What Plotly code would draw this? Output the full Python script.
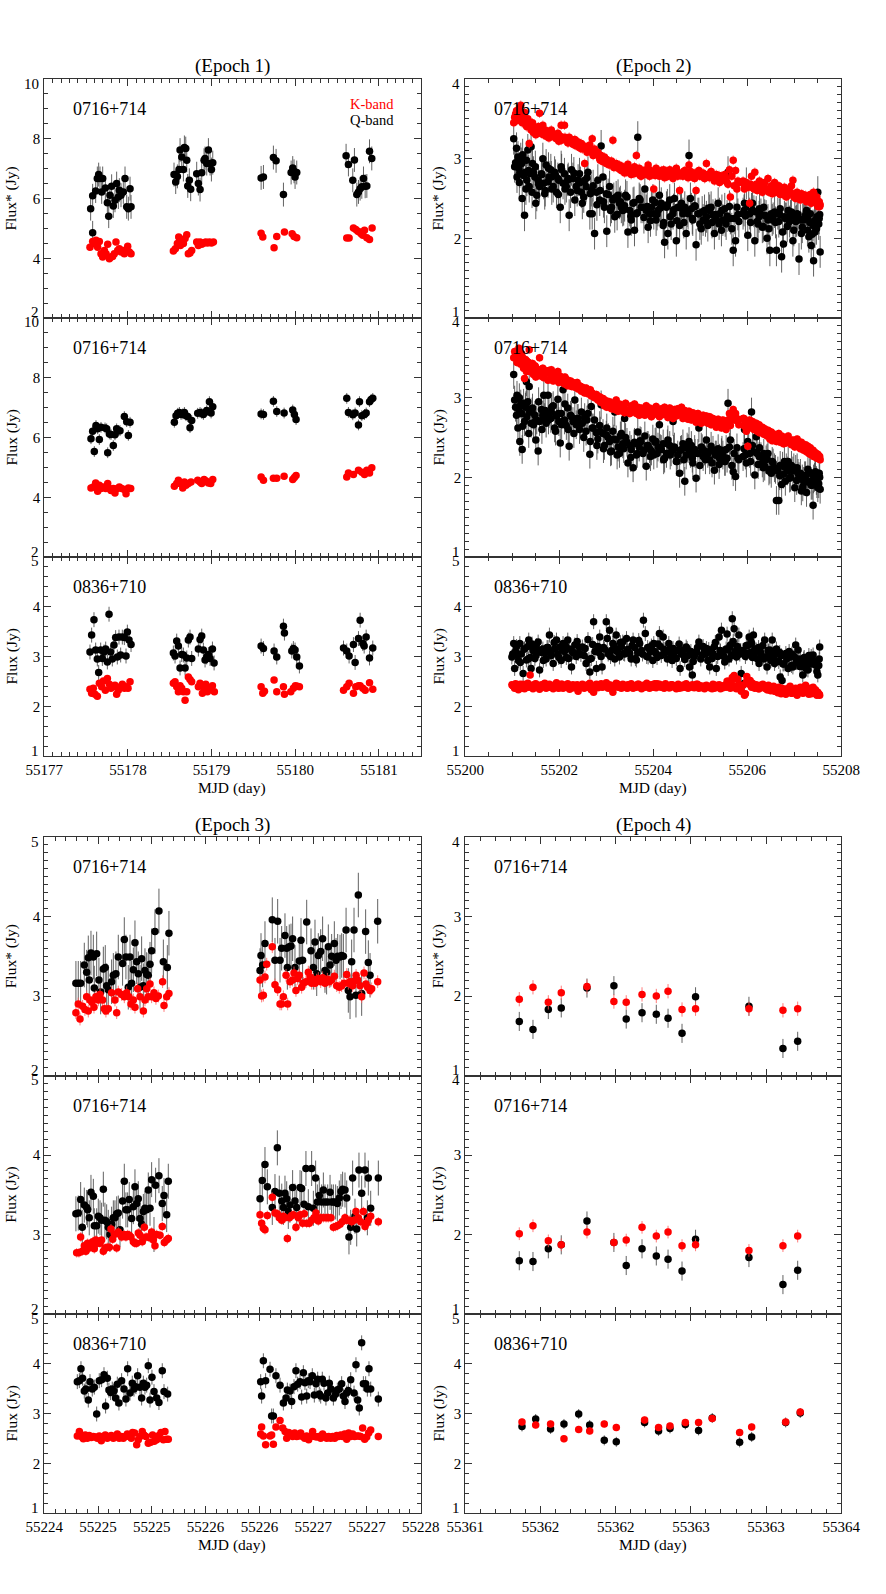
import plotly.graph_objects as go
import numpy as np

# ---------------- DATA ----------------
# Epoch 1 (MJD 55177-55181.5)
e1_q1_t = [55177.554,55177.578,55177.578,55177.614,55177.634,55177.650,55177.666,55177.686,55177.698,55177.730,
           55177.754,55177.770,55177.785,55177.805,55177.825,55177.845,55177.865,55177.885,55177.897,55177.917,
           55177.945,55177.965,55177.985,55178.005,55178.025,55178.037,
           55178.551,55178.571,55178.591,55178.611,55178.623,55178.643,55178.663,55178.675,55178.691,55178.703,
           55178.715,55178.734,55178.750,55178.822,55178.842,55178.862,55178.882,55178.910,55178.922,55178.942,
           55178.962,55178.982,55178.998,55179.014,
           55179.592,55179.620,55179.739,55179.771,55179.859,55179.951,55179.970,55179.986,55179.998,55180.018,
           55180.608,55180.636,55180.688,55180.708,55180.736,55180.756,55180.776,55180.796,55180.816,55180.836,
           55180.856,55180.888,55180.915]
e1_q1 = [5.66,4.85,6.09,6.25,6.67,6.80,6.67,6.22,6.67,6.35,5.86,5.41,6.11,6.41,5.75,5.94,6.50,6.05,6.28,6.11,
         6.22,6.67,5.72,5.66,6.33,5.72,
         6.80,6.55,6.74,6.97,7.62,7.39,6.97,7.71,7.67,7.28,6.42,6.61,6.31,6.83,6.50,6.30,6.86,7.28,7.34,7.17,
         7.62,7.17,6.97,7.20,
         6.69,6.72,7.37,7.26,6.13,6.87,7.02,6.91,6.72,6.87,
         7.43,7.14,6.61,7.29,6.13,6.22,6.33,6.39,6.67,6.41,6.42,7.58,7.34]
e1_k1_t = [55177.546,55177.578,55177.598,55177.618,55177.638,55177.658,55177.678,55177.698,55177.718,55177.738,
           55177.758,55177.778,55177.797,55177.817,55177.837,55177.857,55177.877,55177.897,55177.917,55177.937,
           55177.957,55177.977,55177.997,55178.017,55178.037,
           55178.543,55178.567,55178.591,55178.607,55178.627,55178.647,55178.663,55178.683,55178.703,55178.722,
           55178.742,55178.762,55178.822,55178.842,55178.862,55178.882,55178.910,55178.930,55178.950,55178.974,
           55178.998,55179.022,
           55179.592,55179.612,55179.747,55179.779,55179.871,55179.963,55179.986,55180.018,
           55180.616,55180.644,55180.696,55180.724,55180.748,55180.768,55180.788,55180.808,55180.828,55180.856,
           55180.888,55180.919]
e1_k1 = [4.37,4.56,4.49,4.60,4.37,4.56,4.15,4.04,4.26,4.15,4.47,3.98,4.04,4.06,4.15,4.54,4.26,4.32,4.21,4.26,
         4.15,4.28,4.40,4.21,4.15,
         4.24,4.32,4.49,4.71,4.43,4.60,4.49,4.66,4.79,4.15,4.18,4.26,4.54,4.43,4.54,4.47,4.51,4.54,4.51,4.54,
         4.51,4.54,
         4.84,4.71,4.35,4.73,4.88,4.82,4.73,4.69,
         4.68,4.68,5.01,4.96,4.90,4.88,4.82,4.77,4.94,4.69,4.63,5.01]
e1_q2_t = [55177.558,55177.578,55177.598,55177.618,55177.638,55177.658,55177.678,55177.726,55177.746,55177.758,
           55177.778,55177.797,55177.825,55177.845,55177.865,55177.885,55177.905,55177.957,55177.985,55178.005,
           55178.025,
           55178.555,55178.575,55178.595,55178.615,55178.635,55178.655,55178.675,55178.694,55178.714,55178.742,
           55178.762,55178.834,55178.862,55178.882,55178.902,55178.922,55178.942,55178.974,55178.994,55179.014,
           55179.592,55179.620,55179.739,55179.779,55179.867,55179.970,55179.990,55180.010,
           55180.616,55180.636,55180.688,55180.716,55180.756,55180.768,55180.796,55180.828,55180.848,55180.888,
           55180.907,55180.927]
e1_q2 = [5.96,6.21,5.53,6.40,6.29,5.93,6.34,6.32,6.29,5.49,6.12,6.10,5.73,6.09,6.29,6.23,6.23,6.70,6.53,6.07,
         6.51,
         6.51,6.73,6.81,6.84,6.77,6.79,6.84,6.73,6.70,6.33,6.57,6.81,6.84,6.81,6.77,6.84,6.90,7.20,6.82,7.03,
         6.79,6.77,7.21,6.87,6.82,6.92,6.77,6.60,
         7.31,6.84,6.76,6.82,6.42,7.20,6.73,6.77,6.82,7.20,7.27,7.31]
e1_k2_t = [55177.558,55177.586,55177.614,55177.638,55177.658,55177.678,55177.706,55177.734,55177.758,55177.778,
           55177.797,55177.825,55177.845,55177.873,55177.897,55177.925,55177.957,55177.977,55178.005,55178.033,
           55178.555,55178.583,55178.603,55178.623,55178.655,55178.675,55178.694,55178.722,55178.754,55178.834,
           55178.862,55178.882,55178.910,55178.934,55178.962,55178.990,55179.014,
           55179.592,55179.620,55179.739,55179.779,55179.867,55179.970,55179.990,55180.010,
           55180.616,55180.636,55180.696,55180.756,55180.796,55180.828,55180.856,55180.888,55180.915]
e1_k2 = [4.31,4.34,4.48,4.20,4.40,4.29,4.34,4.29,4.46,4.29,4.23,4.29,4.14,4.29,4.34,4.29,4.26,4.12,4.31,4.29,
         4.37,4.46,4.57,4.46,4.31,4.51,4.40,4.46,4.51,4.57,4.51,4.46,4.59,4.54,4.48,4.46,4.59,
         4.68,4.57,4.64,4.64,4.70,4.59,4.66,4.73,
         4.68,4.81,4.76,4.90,4.84,4.76,4.90,4.81,4.99]
e1_q3_t = [55177.546,55177.566,55177.594,55177.614,55177.634,55177.650,55177.674,55177.694,55177.714,55177.734,
           55177.754,55177.774,55177.793,55177.813,55177.833,55177.853,55177.873,55177.893,55177.913,55177.933,
           55177.957,55177.977,55177.993,55178.013,55178.037,
           55178.543,55178.563,55178.583,55178.603,55178.623,55178.643,55178.663,55178.683,55178.703,55178.722,
           55178.742,55178.762,55178.842,55178.862,55178.882,55178.902,55178.922,55178.942,55178.962,55178.982,
           55179.010,55179.030,
           55179.592,55179.620,55179.747,55179.779,55179.859,55179.871,55179.959,55179.978,55179.998,55180.018,
           55180.050,
           55180.577,55180.616,55180.644,55180.696,55180.716,55180.756,55180.776,55180.808,55180.824,55180.848,
           55180.888,55180.927]
e1_q3 = [3.09,3.43,3.74,3.13,2.95,2.68,3.13,2.96,3.09,3.15,2.89,3.85,3.09,2.95,3.23,3.38,2.99,3.39,3.03,3.39,
         3.38,3.01,3.49,3.33,3.24,
         3.07,3.01,3.31,3.21,2.77,3.04,3.03,2.77,2.97,3.33,3.39,2.96,3.15,3.34,3.41,3.13,2.93,2.99,3.04,2.96,
         3.15,2.87,
         3.21,3.16,3.11,2.99,3.61,3.47,3.11,3.16,3.13,2.99,2.81,
         3.17,3.11,3.01,3.24,2.88,3.36,3.73,3.26,3.21,3.39,2.97,3.17]
e1_k3_t = [55177.546,55177.566,55177.586,55177.606,55177.634,55177.658,55177.686,55177.706,55177.730,55177.754,
           55177.778,55177.797,55177.817,55177.845,55177.865,55177.885,55177.913,55177.933,55177.957,55177.977,
           55178.001,55178.025,
           55178.543,55178.563,55178.583,55178.603,55178.623,55178.643,55178.663,55178.683,55178.703,55178.722,
           55178.742,55178.762,55178.842,55178.862,55178.890,55178.910,55178.930,55178.950,55178.982,55179.010,
           55179.033,
           55179.592,55179.612,55179.632,55179.747,55179.779,55179.859,55179.871,55179.947,55179.978,55180.002,
           55180.026,55180.050,
           55180.577,55180.616,55180.644,55180.696,55180.724,55180.756,55180.776,55180.808,55180.836,55180.888,
           55180.927]
e1_k3 = [2.34,2.26,2.36,2.24,2.20,2.46,2.39,2.51,2.32,2.56,2.44,2.36,2.39,2.42,2.24,2.32,2.39,2.44,2.36,2.39,
         2.36,2.49,
         2.46,2.49,2.39,2.29,2.41,2.36,2.29,2.12,2.29,2.59,2.54,2.49,2.39,2.46,2.26,2.36,2.44,2.29,2.36,2.41,
         2.29,
         2.39,2.26,2.30,2.53,2.29,2.39,2.24,2.29,2.36,2.41,2.40,2.39,
         2.32,2.39,2.46,2.26,2.39,2.41,2.41,2.36,2.32,2.47,2.34]

# Epoch 2 (MJD 55200-55208), 0716+714 scans shared by panels 1 and 2
e2_t_0716 = [55201.03,55201.05,55201.09,55201.10,55201.12,55201.14,55201.16,55201.18,55201.20,55201.21,
             55201.24,55201.26,55201.28,55201.30,55201.31,55201.33,55201.36,55201.37,55201.40,55201.43,
             55201.45,55201.48,55201.50,55201.52,55201.55,55201.58,55201.62,55201.65,55201.67,55201.69,
             55201.72,55201.76,55201.78,55201.82,55201.83,55201.87,55201.90,55201.94,55201.97,55201.99,
             55202.02,55202.04,55202.08,55202.11,55202.15,55202.18,55202.21,55202.26,55202.29,55202.33,
             55202.36,55202.40,55202.43,55202.47,55202.49,55202.54,55202.57,55202.61,55202.65,55202.68,
             55202.70,55202.75,55202.79,55202.82,55202.86,55202.89,55202.93,55202.96,55203.00,55203.01,
             55203.07,55203.11,55203.14,55203.18,55203.21,55203.25,55203.28,55203.32,55203.35,55203.39,
             55203.41,55203.46,55203.50,55203.53,55203.57,55203.60,55203.64,55203.67,55203.70,55203.74,
             55203.78,55203.82,55203.85,55203.89,55203.92,55203.96,55203.99,55204.01,55204.06,55204.10,
             55204.13,55204.17,55204.21,55204.24,55204.28,55204.31,55204.35,55204.38,55204.42,55204.45,
             55204.49,55204.52,55204.56,55204.60,55204.63,55204.67,55204.70,55204.74,55204.76,55204.79,
             55204.81,55204.84,55204.88,55204.91,55204.95,55204.97,55205.02,55205.06,55205.09,55205.13,
             55205.16,55205.20,55205.23,55205.27,55205.30,55205.34,55205.38,55205.41,55205.45,55205.48,
             55205.52,55205.55,55205.59,55205.64,55205.70,55205.75,55205.78,55205.82,55205.91,55205.94,
             55205.98,55206.01,55206.05,55206.09,55206.11,55206.16,55206.19,55206.21,55206.25,55206.26,
             55206.32,55206.35,55206.37,55206.42,55206.44,55206.48,55206.51,55206.53,55206.58,55206.62,
             55206.65,55206.67,55206.70,55206.73,55206.77,55206.79,55206.83,55206.87,55206.90,55206.94,
             55206.97,55207.01,55207.03,55207.06,55207.10,55207.13,55207.15,55207.20,55207.24,55207.26,
             55207.29,55207.31,55207.34,55207.36,55207.40,55207.41,55207.45,55207.48,55207.50,55207.53,
             55207.55,
             55201.07,55201.15,55201.22,55201.29,55201.35,55201.42,55201.49,55201.56,55201.63,55201.70,
             55201.77,55201.84,55201.92,55201.98,55202.05,55202.12,55202.19,55202.24,55202.31,55202.38,
             55202.45,55202.52,55202.59,55202.66,55202.72,55202.80,55202.87,55202.94,55203.04,55203.09,
             55203.16,55203.23,55203.30,55203.37,55203.44,55203.52,55203.59,55203.66,55203.72,55203.80,
             55203.87,55203.94,55204.04,55204.08,55204.15,55204.22,55204.30,55204.36,55204.43,55204.50,
             55204.58,55204.65,55204.72,55204.83,55204.89,55204.99,55205.04,55205.11,55205.18,55205.25,
             55205.32,55205.40,55205.46,55205.53,55205.57,55205.62,55205.67,55205.72,55205.80,55205.93,
             55205.96,55206.03,55206.07,55206.14,55206.23,55206.29,55206.34,55206.40,55206.46,55206.55,
             55206.60,55206.69,55206.75,55206.81,55206.85,55206.92,55206.99,55207.05,55207.08,55207.17,
             55207.22,55207.28,55207.33,55207.38,55207.43,55207.47,55207.52,55207.54,55207.18,55207.44]
e2_q1 = [3.25,2.90,3.13,2.77,3.02,2.88,2.83,3.00,2.94,2.50, 2.79,2.29,2.83,2.98,2.73,3.11,2.65,2.81,3.15,2.94,
         2.83,2.77,2.44,2.54,2.73,2.65,2.81,3.00,2.69,2.56, 2.92,2.71,2.77,2.86,2.77,2.65,2.83,2.58,2.75,2.73,
         2.39,2.90,2.69,2.81,2.65,2.73,2.29,2.86,2.75,2.48, 2.65,2.73,2.81,2.58,2.44,2.73,2.65,2.83,2.31,2.60,
         2.31,2.06,2.58,2.73,2.48,3.16,2.77,2.39,2.56,2.09, 2.65,2.39,2.48,2.27,2.52,2.54,2.44,2.39,2.35,2.41,
         2.54,2.08,2.35,2.23,2.44,2.10,2.31,3.27,2.50,2.39, 2.39,2.62,2.35,2.14,2.31,2.39,2.48,2.31,2.23,2.35,
         2.54,2.44,2.16,1.95,2.39,2.06,2.48,2.18,2.31,2.50, 1.97,2.39,2.16,2.44,2.31,2.39,2.06,2.31,3.04,2.50,
         2.37,2.23,2.41,1.92,2.31,2.31,2.12,2.23,2.35,2.27, 2.16,2.35,2.39,2.29,2.06,2.23,2.44,2.31,2.10,2.23,
         2.37,2.18,2.83,2.25,1.85,1.97,2.39,2.21,2.31,2.44, 2.69,2.04,2.31,2.37,2.44,1.97,2.33,2.21,2.27,2.37,
         2.14,2.39,2.29,2.00,2.23,1.85,2.31,2.23,2.33,1.85, 2.31,2.21,2.37,1.77,1.93,2.27,2.25,2.35,2.21,2.33,
         1.97,2.27,2.21,2.31,1.74,2.23,2.06,2.23,2.29,2.35, 2.25,2.02,2.31,1.91,2.16,1.72,2.23,2.27,2.58,2.25,
         1.83,
         2.95,2.70,3.05,2.62,2.85,2.58,2.90,2.68,2.80,2.60, 2.88,2.62,2.79,2.55,2.86,2.62,2.75,2.58,2.82,2.60,
         2.70,2.52,2.76,2.56,2.66,2.42,2.60,2.46,2.55,2.35, 2.50,2.30,2.46,2.36,2.52,2.28,2.45,2.32,2.48,2.26,
         2.40,2.22,2.45,2.30,2.38,2.20,2.42,2.27,2.36,2.22, 2.38,2.20,2.34,2.25,2.40,2.18,2.33,2.22,2.38,2.20,
         2.30,2.18,2.35,2.22,2.28,2.40,2.12,2.25,2.30,2.35, 2.28,2.40,2.20,2.34,2.18,2.30,2.15,2.28,2.12,2.25,
         2.20,2.30,2.08,2.25,2.15,2.28,2.10,2.22,2.30,2.14, 2.25,2.10,2.20,2.05,2.22,2.12,2.18,2.30,2.24,2.08]
e2_k1 = [3.45,3.52,3.60,3.48,3.55,3.62,3.50,3.67,3.56,3.45, 3.52,3.58,3.44,3.48,3.40,3.50,3.19,3.42,3.36,3.45,
         3.33,3.38,3.30,3.35,3.40,3.57,3.32,3.42,3.30,3.35, 3.28,3.34,3.26,3.31,3.36,3.28,3.30,3.25,3.32,3.22,
         3.28,3.42,3.26,3.42,3.24,3.20,3.27,3.22,3.18,3.24, 3.16,3.21,3.14,3.19,3.12,2.94,3.15,3.10,3.17,3.08,
         3.25,3.12,3.05,3.08,3.00,3.04,2.96,3.02,2.94,2.99, 2.92,2.97,3.23,2.90,2.94,2.88,2.92,2.85,2.90,2.82,
         2.88,2.93,2.84,2.80,2.86,2.90,3.04,2.82,2.88,2.78, 2.85,2.80,2.86,2.92,2.78,2.84,2.80,2.62,2.88,2.82,
         2.78,2.85,2.80,2.76,2.84,2.78,2.86,2.80,2.75,2.83, 2.88,2.78,2.60,2.82,2.78,2.85,2.80,2.76,2.92,2.84,
         2.78,2.82,2.75,2.60,2.80,2.85,2.78,2.82,2.75,2.94, 2.80,2.76,2.84,2.78,2.72,2.80,2.76,2.70,2.78,2.74,
         2.80,2.72,2.68,2.52,2.98,2.85,2.62,2.70,2.72,2.62, 2.70,2.66,2.44,2.78,2.64,2.83,2.68,2.60,2.66,2.72,
         2.58,2.64,2.70,2.62,2.75,2.60,2.66,2.56,2.70,2.62, 2.58,2.66,2.55,2.62,2.58,2.64,2.52,2.60,2.56,2.66,
         2.73,2.55,2.50,2.58,2.52,2.48,2.56,2.50,2.54,2.46, 2.52,2.48,2.55,2.44,2.50,2.58,2.46,2.52,2.40,2.46,
         2.42,
         3.56,3.49,3.52,3.42,3.47,3.38,3.34,3.40,3.31,3.36, 3.29,3.33,3.26,3.30,3.23,3.27,3.20,3.24,3.18,3.21,
         3.13,3.16,3.08,3.11,3.04,3.07,2.98,3.01,2.93,2.96, 2.89,2.92,2.86,2.89,2.83,2.87,2.81,2.85,2.79,2.84,
         2.81,2.85,2.79,2.83,2.80,2.86,2.78,2.83,2.80,2.84, 2.79,2.84,2.80,2.77,2.82,2.78,2.81,2.76,2.80,2.77,
         2.74,2.79,2.73,2.76,2.70,2.86,2.78,2.66,2.72,2.68, 2.70,2.64,2.68,2.62,2.66,2.60,2.65,2.62,2.58,2.63,
         2.58,2.62,2.55,2.60,2.54,2.58,2.52,2.56,2.50,2.54, 2.52,2.48,2.50,2.46,2.48,2.44,2.46,2.40,2.55,2.50]
e2_q2 = [3.29,2.97,2.78,3.03,2.62,2.85,2.45,2.92,2.80,2.35, 2.93,2.70,2.88,3.20,2.76,2.95,3.14,2.82,2.68,2.87,
         2.66,2.78,2.47,2.72,2.33,2.70,2.85,2.78,3.03,2.75, 2.68,3.03,2.80,2.74,2.82,2.90,2.62,2.77,2.98,2.70,
         2.43,2.80,3.10,2.72,2.65,2.87,2.39,2.76,2.70,2.97, 2.66,2.74,2.60,2.82,2.68,2.75,2.58,2.80,2.29,2.89,
         2.62,2.72,2.56,2.48,2.65,2.91,2.55,2.40,2.53,2.62, 2.45,2.33,2.58,2.82,2.47,2.38,2.30,2.55,2.42,2.74,
         2.50,2.18,2.40,2.35,2.12,2.44,2.28,2.57,2.38,2.45, 2.30,2.52,2.14,2.40,2.36,2.33,2.48,2.28,2.45,2.38,
         2.66,2.35,2.42,2.24,2.30,2.47,2.40,2.32,2.70,2.38, 2.20,2.28,2.05,2.35,2.42,1.95,2.28,2.36,2.45,2.30,
         2.40,2.18,2.35,1.99,2.30,2.62,2.38,2.26,2.33,2.47, 2.30,2.22,2.39,2.34,2.09,2.28,2.36,2.24,2.31,2.28,
         2.20,2.35,2.93,2.47,2.07,2.01,2.37,2.22,2.26,2.60, 2.18,2.45,2.30,2.82,2.40,2.03,2.51,2.30,2.26,2.37,
         2.18,2.30,2.14,2.24,2.30,2.10,2.05,2.20,2.12,1.71, 2.08,1.71,2.15,1.91,2.04,2.20,2.12,2.20,1.99,2.15,
         2.08,1.87,2.10,2.12,2.01,2.05,1.83,1.95,2.02,1.81, 2.10,1.95,2.05,1.90,1.65,1.98,2.07,1.92,1.87,2.05,
         1.85,
         2.88,3.00,2.64,2.90,2.55,2.82,2.70,2.95,2.60,2.84, 2.72,2.88,2.58,2.80,2.66,2.92,2.60,2.78,2.55,2.74,
         2.68,2.50,2.72,2.45,2.62,2.40,2.58,2.36,2.50,2.32, 2.48,2.28,2.52,2.36,2.44,2.25,2.42,2.30,2.46,2.34,
         2.40,2.26,2.44,2.30,2.36,2.22,2.42,2.28,2.35,2.20, 2.34,2.22,2.38,2.24,2.30,2.15,2.36,2.22,2.32,2.18,
         2.28,2.16,2.34,2.20,2.24,2.38,2.15,2.30,2.24,2.36, 2.28,2.40,2.20,2.32,2.16,2.26,2.12,2.22,2.08,2.18,
         2.10,2.02,2.14,1.95,2.08,2.00,2.12,1.96,2.05,1.98, 2.02,1.94,2.06,1.90,2.00,1.96,1.92,2.00,1.88,2.04]
e2_k2 = [3.50,3.58,3.52,3.44,3.56,3.62,3.49,3.42,3.55,3.45, 3.37,3.24,3.48,3.33,3.46,3.40,3.60,3.33,3.38,3.43,
         3.29,3.40,3.26,3.36,3.32,3.50,3.27,3.37,3.25,3.34, 3.32,3.22,3.34,3.25,3.35,3.21,3.30,3.24,3.33,3.19,
         3.27,3.21,3.24,3.17,3.23,3.15,3.21,3.14,3.19,3.13, 3.17,3.11,3.15,3.08,3.13,3.06,3.12,3.05,3.09,3.02,
         3.06,3.00,3.04,2.97,3.01,2.94,2.99,2.90,2.96,2.88, 2.95,2.86,2.93,2.85,2.97,2.83,2.92,2.84,2.90,2.81,
         2.93,2.84,2.80,2.90,2.83,2.92,2.80,2.88,2.78,2.87, 2.85,2.78,2.90,2.80,2.87,2.76,2.85,2.79,2.89,2.80,
         2.76,2.86,2.79,2.88,2.80,2.75,2.87,2.78,2.74,2.85, 2.77,2.86,2.79,2.88,2.74,2.84,2.76,2.73,2.83,2.75,
         2.72,2.81,2.74,2.69,2.80,2.72,2.68,2.78,2.70,2.77, 2.68,2.76,2.66,2.74,2.69,2.63,2.73,2.66,2.62,2.72,
         2.64,2.60,2.72,2.65,2.85,2.80,2.74,2.66,2.74,2.64, 2.58,2.39,2.72,2.62,2.70,2.60,2.68,2.58,2.66,2.56,
         2.63,2.54,2.61,2.52,2.59,2.48,2.57,2.46,2.54,2.45, 2.52,2.55,2.44,2.52,2.42,2.50,2.43,2.52,2.44,2.41,
         2.47,2.38,2.46,2.48,2.38,2.36,2.44,2.34,2.41,2.32, 2.39,2.30,2.37,2.28,2.34,2.26,2.31,2.24,2.29,2.23,
         2.22,
         3.55,3.47,3.50,3.40,3.44,3.36,3.39,3.32,3.36,3.30, 3.33,3.27,3.30,3.24,3.22,3.26,3.18,3.21,3.16,3.19,
         3.14,3.11,3.08,3.10,3.02,3.00,2.95,2.98,2.90,2.93, 2.87,2.90,2.84,2.88,2.82,2.87,2.83,2.86,2.80,2.85,
         2.81,2.86,2.82,2.85,2.80,2.84,2.79,2.83,2.80,2.85, 2.80,2.76,2.80,2.74,2.77,2.73,2.76,2.72,2.74,2.70,
         2.72,2.68,2.70,2.66,2.68,2.80,2.76,2.72,2.70,2.74, 2.68,2.64,2.66,2.60,2.63,2.58,2.61,2.55,2.58,2.52,
         2.52,2.48,2.50,2.46,2.49,2.44,2.46,2.42,2.45,2.40, 2.38,2.36,2.34,2.33,2.30,2.29,2.27,2.26,2.41,2.31]
# Epoch 2, 0836+710 scans
e2_t_0836 = [55200.99,55201.03,55201.05,55201.07,55201.10,55201.13,55201.16,55201.19,55201.23,55201.26,
             55201.30,55201.33,55201.35,55201.38,55201.40,55201.44,55201.48,55201.51,55201.55,55201.58,
             55201.62,55201.65,55201.69,55201.72,55201.76,55201.79,55201.83,55201.87,55201.90,55201.94,
             55201.97,55202.01,55202.04,55202.08,55202.11,55202.15,55202.18,55202.22,55202.26,55202.29,
             55202.33,55202.36,55202.40,55202.43,55202.49,55202.53,55202.57,55202.61,55202.65,55202.68,
             55202.73,55202.76,55202.79,55202.82,55202.86,55202.89,55202.91,55202.96,55203.00,55203.04,
             55203.07,55203.11,55203.14,55203.18,55203.21,55203.25,55203.28,55203.32,55203.35,55203.39,
             55203.43,55203.46,55203.50,55203.53,55203.57,55203.60,55203.64,55203.67,55203.71,55203.75,
             55203.79,55203.83,55203.86,55203.89,55203.92,55203.96,55203.99,55204.03,55204.06,55204.10,
             55204.13,55204.17,55204.21,55204.23,55204.26,55204.30,55204.33,55204.38,55204.42,55204.45,
             55204.49,55204.53,55204.57,55204.60,55204.63,55204.67,55204.70,55204.74,55204.77,55204.80,
             55204.83,55204.87,55204.90,55204.94,55204.97,55205.01,55205.04,55205.09,55205.13,55205.16,
             55205.20,55205.23,55205.27,55205.30,55205.34,55205.37,55205.40,55205.43,55205.45,55205.48,
             55205.52,55205.55,55205.59,55205.61,55205.64,55205.66,55205.68,55205.72,55205.74,55205.77,
             55205.79,55205.82,55205.84,55205.87,55205.91,55205.94,55205.96,55205.99,55206.01,55206.04,
             55206.06,55206.09,55206.11,55206.13,55206.16,55206.19,55206.22,55206.25,55206.28,55206.30,
             55206.33,55206.37,55206.39,55206.42,55206.45,55206.48,55206.50,55206.53,55206.56,55206.58,
             55206.62,55206.65,55206.67,55206.70,55206.72,55206.74,55206.78,55206.82,55206.84,55206.87,
             55206.89,55206.91,55206.94,55206.97,55207.00,55207.03,55207.06,55207.08,55207.10,55207.13,
             55207.16,55207.18,55207.21,55207.24,55207.26,55207.29,55207.31,55207.34,55207.37,55207.40,
             55207.43,55207.45,55207.48,55207.50,55207.53,55207.54,
             55201.01,55201.09,55201.17,55201.25,55201.34,55201.42,55201.50,55201.57,55201.66,55201.74,
             55201.81,55201.89,55201.99,55202.06,55202.13,55202.20,55202.28,55202.38,55202.46,55202.55,
             55202.63,55202.71,55202.84,55202.94,55203.02,55203.09,55203.16,55203.23,55203.30,55203.37,
             55203.45,55203.55,55203.62,55203.69,55203.77,55203.88,55203.94,55204.01,55204.08,55204.15,
             55204.25,55204.35,55204.40,55204.47,55204.55,55204.65,55204.72,55204.85,55204.92,55205.06,
             55205.11,55205.18,55205.25,55205.32,55205.42,55205.50,55205.57,55205.63,55205.70,55205.76,
             55205.86,55205.98,55206.08,55206.15,55206.24,55206.35,55206.44,55206.52,55206.60,55206.69,
             55206.76,55206.86,55206.95,55207.04,55207.12,55207.20,55207.28,55207.36,55207.42,55207.52]
e2_q3 = [2.99,3.26,2.76,3.10,3.03,2.92,3.26,3.05,2.66,3.15, 2.93,3.20,3.33,2.98,2.76,3.12,2.96,3.22,3.29,2.73,
         3.08,3.15,3.06,2.95,3.18,3.43,3.02,2.86,3.15,3.33, 3.05,3.19,2.92,3.26,3.10,2.98,3.33,3.15,2.79,3.08,
         3.23,3.00,3.06,3.18,3.19,3.02,2.86,3.34,2.69,2.96, 3.70,3.10,2.76,3.20,3.39,3.00,2.79,3.15,3.70,3.05,
         3.53,3.12,3.26,2.95,3.43,3.15,2.99,3.20,3.29,3.05, 3.36,3.10,3.06,2.95,3.33,3.18,2.93,3.08,3.26,3.12,
         3.73,3.46,3.00,2.99,3.15,3.21,2.92,3.10,3.06,3.25, 3.46,3.02,3.39,3.14,3.09,2.95,3.26,3.05,3.16,3.00,
         2.96,3.12,2.76,3.05,3.13,2.94,3.19,3.02,2.79,3.10, 2.63,3.00,3.06,3.18,3.29,2.95,3.03,3.12,3.16,2.92,
         2.79,3.08,3.06,3.20,2.76,3.00,3.39,3.10,3.53,3.05, 2.89,3.15,3.13,2.95,3.23,3.02,3.76,3.56,3.10,2.99,
         3.20,3.43,3.05,2.66,3.12,2.46,3.00,3.06,3.22,3.39, 3.08,3.26,2.98,3.43,3.15,3.13,2.95,2.86,3.10,3.03,
         3.22,3.33,2.98,2.79,3.10,3.13,2.92,3.33,3.05,2.86, 3.15,3.06,2.90,2.59,3.02,2.52,2.85,3.06,2.95,2.76,
         3.10,2.99,2.82,2.79,3.00,3.23,2.88,3.13,2.95,2.93, 2.80,2.63,2.98,2.86,2.75,2.73,3.02,2.96,2.85,3.03,
         2.90,2.83,2.70,2.63,2.95,3.19,
         3.05,3.20,2.88,3.15,2.95,3.25,3.02,3.12,2.92,3.18, 3.08,3.28,2.98,3.14,3.22,2.96,3.10,3.30,3.04,3.16,
         2.94,3.24,3.08,3.18,3.36,3.00,3.22,3.10,3.28,3.06, 3.14,3.22,2.96,3.32,3.05,3.18,3.10,3.26,2.98,3.20,
         3.08,3.15,2.92,3.12,3.25,3.02,3.16,2.90,3.10,3.20, 3.05,3.14,2.96,3.28,3.12,3.00,3.45,3.20,3.30,3.05,
         3.12,3.22,3.30,3.05,3.18,2.95,3.12,3.00,2.92,3.08, 2.85,2.98,3.05,2.88,2.80,2.95,2.86,3.00,2.90,2.82]
e2_k3 = [2.43,2.40,2.36,2.45,2.38,2.33,2.42,2.37,2.44,2.35, 2.40,2.46,2.38,2.63,2.42,2.35,2.44,2.38,2.41,2.34,
         2.43,2.39,2.46,2.36,2.41,2.44,2.38,2.35,2.42,2.47, 2.37,2.40,2.44,2.36,2.41,2.38,2.45,2.34,2.40,2.43,
         2.37,2.41,2.30,2.39,2.44,2.36,2.42,2.38,2.46,2.33, 2.28,2.40,2.44,2.37,2.42,2.45,2.38,2.41,2.47,2.36,
         2.43,2.39,2.28,2.42,2.46,2.38,2.41,2.36,2.44,2.40, 2.37,2.43,2.39,2.45,2.36,2.41,2.38,2.44,2.40,2.35,
         2.42,2.38,2.46,2.40,2.36,2.43,2.39,2.45,2.37,2.41, 2.44,2.38,2.42,2.36,2.45,2.40,2.37,2.43,2.39,2.41,
         2.35,2.44,2.40,2.37,2.42,2.38,2.45,2.36,2.41,2.39, 2.43,2.37,2.40,2.44,2.36,2.41,2.38,2.35,2.42,2.39,
         2.37,2.40,2.44,2.36,2.41,2.38,2.43,2.35,2.40,2.37, 2.42,2.38,2.50,2.41,2.36,2.45,2.58,2.62,2.40,2.35,
         2.55,2.44,2.38,2.30,2.42,2.22,2.25,2.60,2.48,2.44, 2.52,2.38,2.46,2.41,2.36,2.43,2.39,2.35,2.42,2.38,
         2.44,2.36,2.40,2.33,2.42,2.38,2.31,2.36,2.40,2.30, 2.34,2.27,2.38,2.32,2.25,2.36,2.30,2.24,2.35,2.28,
         2.32,2.40,2.26,2.34,2.30,2.36,2.22,2.33,2.28,2.38, 2.30,2.26,2.35,2.42,2.28,2.32,2.24,2.36,2.30,2.38,
         2.26,2.33,2.22,2.28,2.24,2.22,
         2.41,2.38,2.44,2.36,2.42,2.39,2.45,2.37,2.40,2.43, 2.38,2.42,2.36,2.44,2.39,2.41,2.37,2.43,2.40,2.38,
         2.44,2.36,2.41,2.39,2.43,2.37,2.40,2.45,2.38,2.42, 2.36,2.41,2.39,2.44,2.37,2.40,2.42,2.38,2.45,2.39,
         2.41,2.37,2.43,2.39,2.36,2.42,2.40,2.38,2.44,2.37, 2.41,2.39,2.35,2.42,2.38,2.40,2.50,2.45,2.55,2.36,
         2.40,2.48,2.42,2.38,2.35,2.40,2.33,2.37,2.30,2.34, 2.28,2.32,2.26,2.30,2.34,2.27,2.31,2.25,2.29,2.24]

# Epoch 3 (MJD 55224-55227.5)
e3_q1_t = [55224.294,55224.316,55224.338,55224.372,55224.394,55224.409,55224.418,55224.434,55224.456,55224.465,
           55224.487,55224.508,55224.524,55224.549,55224.567,55224.580,55224.595,55224.626,55224.642,55224.666,
           55224.688,55224.728,55224.744,55224.759,55224.781,55224.797,55224.812,55224.828,55224.843,55224.859,
           55224.874,55224.890,55224.905,55224.921,55224.936,55224.952,55224.967,55224.983,55224.998,55225.029,
           55225.066,55225.107,55225.144,55225.159,
           55226.006,55226.015,55226.030,55226.052,55226.120,55226.145,55226.170,55226.192,55226.207,55226.238,
           55226.254,55226.260,55226.278,55226.294,55226.309,55226.331,55226.371,55226.387,55226.402,55226.440,
           55226.480,55226.502,55226.517,55226.533,55226.548,55226.570,55226.588,55226.610,55226.625,55226.641,
           55226.657,55226.672,55226.697,55226.713,55226.728,55226.750,55226.765,55226.781,55226.806,55226.827,
           55226.843,55226.858,55226.880,55226.898,55226.920,55226.951,55226.988,55227.013,55227.029,55227.100]
e3_q1 = [3.16,3.16,3.16,3.39,3.30,3.48,3.20,3.54,3.49,3.10, 3.53,3.20,3.05,3.34,3.36,3.13,3.08,3.18,3.26,3.28,
         3.49,3.41,3.71,3.49,3.11,3.49,3.16,3.33,3.67,3.43, 3.28,3.11,3.47,3.13,3.32,3.27,3.26,3.40,3.57,3.81,
         4.07,3.43,3.36,3.79,
         3.32,3.51,3.39,3.66,3.96,3.45,3.94,3.45,3.60,3.76, 3.60,3.36,3.62,3.63,3.72,3.36,3.44,3.70,3.45,3.93,
         3.57,3.36,3.68,3.28,3.51,3.56,3.72,3.32,3.30,3.62, 3.39,3.50,3.66,3.45,3.50,3.49,3.51,3.50,3.83,3.07,
         2.99,3.43,3.83,3.01,4.27,3.03,3.81,3.42,3.26,3.94]
e3_k1_t = [55224.294,55224.316,55224.332,55224.356,55224.378,55224.394,55224.409,55224.425,55224.443,55224.462,
           55224.480,55224.502,55224.518,55224.542,55224.558,55224.573,55224.595,55224.626,55224.657,55224.673,
           55224.688,55224.719,55224.744,55224.766,55224.787,55224.806,55224.828,55224.843,55224.868,55224.890,
           55224.921,55224.936,55224.952,55224.967,55224.983,55224.998,55225.020,55225.038,55225.060,55225.100,
           55225.113,55225.138,55225.159,
           55226.006,55226.021,55226.037,55226.052,55226.068,55226.120,55226.145,55226.170,55226.192,55226.207,
           55226.223,55226.248,55226.263,55226.285,55226.309,55226.322,55226.340,55226.356,55226.371,55226.393,
           55226.409,55226.433,55226.455,55226.471,55226.486,55226.502,55226.517,55226.533,55226.548,55226.570,
           55226.588,55226.610,55226.632,55226.650,55226.672,55226.697,55226.719,55226.743,55226.765,55226.787,
           55226.812,55226.827,55226.843,55226.867,55226.883,55226.899,55226.914,55226.936,55226.951,55226.973,
           55226.991,55227.007,55227.029,55227.044,55227.100]
e3_k1 = [2.79,2.90,2.71,2.87,2.83,2.99,2.81,2.95,2.92,2.86, 2.99,2.95,3.02,2.95,2.84,2.81,2.84,3.04,2.95,2.79,
         3.05,3.02,2.99,3.04,2.99,2.90,2.95,2.86,3.09,2.99, 2.81,2.95,3.09,2.99,3.15,2.99,3.04,2.97,3.00,3.18,
         2.88,2.99,3.03,
         3.20,3.00,3.01,3.24,3.40,3.62,3.14,3.08,2.90,2.90, 2.99,3.26,2.90,3.18,3.20,3.29,3.07,3.22,3.26,3.11,
         3.16,3.18,3.30,3.24,3.16,3.21,3.16,3.20,3.22,3.18, 3.23,3.16,3.21,3.18,3.20,3.25,3.13,3.11,3.13,3.16,
         3.27,3.16,3.18,3.13,3.19,3.26,3.20,3.13,2.99,3.29, 3.15,3.11,3.07,3.09,3.18]
e3_q2_t = [55224.294,55224.316,55224.338,55224.353,55224.372,55224.394,55224.403,55224.418,55224.434,55224.456,
           55224.465,55224.487,55224.502,55224.518,55224.533,55224.549,55224.564,55224.580,55224.595,55224.611,
           55224.626,55224.642,55224.657,55224.673,55224.688,55224.704,55224.728,55224.744,55224.759,55224.775,
           55224.790,55224.812,55224.828,55224.843,55224.859,55224.874,55224.890,55224.905,55224.921,55224.936,
           55224.952,55224.967,55224.983,55224.998,55225.020,55225.035,55225.066,55225.097,55225.113,55225.138,
           55225.153,
           55226.006,55226.027,55226.052,55226.074,55226.120,55226.145,55226.167,55226.185,55226.208,55226.223,
           55226.238,55226.254,55226.269,55226.285,55226.309,55226.331,55226.347,55226.378,55226.393,55226.415,
           55226.433,55226.455,55226.486,55226.502,55226.523,55226.539,55226.557,55226.579,55226.595,55226.610,
           55226.635,55226.657,55226.672,55226.688,55226.709,55226.725,55226.743,55226.759,55226.774,55226.796,
           55226.812,55226.833,55226.849,55226.867,55226.889,55226.905,55226.926,55226.951,55226.982,55227.004,
           55227.013,55227.035,55227.106]
e3_q2 = [3.26,3.27,3.44,3.09,3.37,3.34,3.31,3.21,3.53,3.48, 3.11,3.11,3.23,3.21,3.18,3.57,3.18,3.16,3.09,3.00,
         3.13,3.21,3.21,3.26,3.27,3.06,3.42,3.67,3.31,3.31, 3.44,3.20,3.35,3.60,3.39,3.45,3.20,3.13,3.29,3.33,
         3.31,3.56,3.33,3.69,3.00,3.62,3.74,3.39,3.49,3.25, 3.67,
         3.45,3.68,3.88,3.60,3.34,3.54,4.09,3.52,3.42,3.34, 3.52,3.45,3.29,3.37,3.59,3.42,3.34,3.59,3.58,3.38,
         3.83,3.35,3.83,3.33,3.71,3.41,3.49,3.41,3.56,3.41, 3.41,3.53,3.41,3.41,3.41,3.39,3.46,3.54,3.57,3.56,
         3.46,2.97,3.09,3.71,3.23,3.07,3.81,3.52,3.81,3.21, 3.71,3.33,3.71]
e3_k2_t = [55224.301,55224.322,55224.338,55224.353,55224.372,55224.387,55224.403,55224.418,55224.434,55224.449,
           55224.465,55224.480,55224.496,55224.518,55224.533,55224.549,55224.564,55224.586,55224.605,55224.620,
           55224.636,55224.651,55224.673,55224.688,55224.704,55224.719,55224.741,55224.759,55224.775,55224.790,
           55224.806,55224.828,55224.843,55224.859,55224.874,55224.890,55224.911,55224.930,55224.946,55224.967,
           55224.983,55224.998,55225.014,55225.029,55225.045,55225.076,55225.097,55225.116,55225.138,55225.153,
           55226.006,55226.021,55226.037,55226.052,55226.074,55226.120,55226.145,55226.167,55226.185,55226.208,
           55226.223,55226.238,55226.260,55226.279,55226.300,55226.316,55226.340,55226.362,55226.378,55226.402,
           55226.418,55226.440,55226.464,55226.486,55226.508,55226.526,55226.548,55226.570,55226.595,55226.620,
           55226.641,55226.666,55226.688,55226.709,55226.725,55226.750,55226.771,55226.796,55226.812,55226.836,
           55226.858,55226.880,55226.898,55226.920,55226.942,55226.967,55226.982,55226.998,55227.013,55227.035,
           55227.106]
e3_k2 = [2.77,2.77,2.97,2.79,2.86,2.79,2.89,2.83,2.85,2.91, 2.82,2.93,2.89,2.89,2.93,2.79,2.83,2.84,2.84,3.07,
         2.94,3.00,2.83,3.03,3.00,2.97,3.00,2.97,3.00,2.99, 2.97,2.91,2.89,2.89,3.02,2.99,2.91,3.09,2.97,2.97,
         2.96,3.03,2.93,2.86,3.00,2.99,3.10,2.90,2.93,2.95,
         3.25,3.14,3.08,3.06,3.24,3.47,3.27,3.26,3.21,3.18, 3.23,3.21,2.95,3.21,3.24,3.25,3.09,3.21,3.25,3.14,
         3.26,3.14,3.14,3.18,3.21,3.27,3.17,3.21,3.21,3.21, 3.21,3.21,3.09,3.10,3.11,3.13,3.16,3.21,3.18,3.18,
         3.16,3.18,3.29,3.21,3.16,3.29,3.10,3.14,3.18,3.23, 3.16]
e3_q3_t = [55224.307,55224.326,55224.341,55224.356,55224.372,55224.387,55224.409,55224.425,55224.446,55224.465,
           55224.487,55224.511,55224.533,55224.555,55224.570,55224.586,55224.601,55224.617,55224.632,55224.648,
           55224.663,55224.679,55224.694,55224.719,55224.741,55224.759,55224.775,55224.797,55224.818,55224.834,
           55224.852,55224.868,55224.890,55224.905,55224.921,55224.936,55224.952,55224.967,55224.983,55225.001,
           55225.020,55225.045,55225.066,55225.097,55225.113,55225.147,
           55226.012,55226.021,55226.037,55226.058,55226.099,55226.114,55226.130,55226.154,55226.192,55226.223,
           55226.248,55226.260,55226.285,55226.300,55226.322,55226.340,55226.356,55226.378,55226.393,55226.409,
           55226.424,55226.440,55226.455,55226.471,55226.492,55226.511,55226.527,55226.542,55226.557,55226.570,
           55226.585,55226.601,55226.619,55226.635,55226.650,55226.666,55226.688,55226.709,55226.725,55226.743,
           55226.765,55226.781,55226.796,55226.812,55226.827,55226.849,55226.880,55226.898,55226.914,55226.929,
           55226.951,55226.967,55226.988,55227.004,55227.019,55227.035,55227.106]
e3_q3 = [3.64,3.66,3.90,3.71,3.45,3.49,3.27,3.64,3.49,3.53, 2.99,3.66,3.68,3.78,3.15,3.71,3.47,3.42,3.49,3.45,
         3.31,3.59,3.21,3.66,3.49,3.29,3.90,3.41,3.61,3.49, 3.54,3.76,3.53,3.31,3.61,3.53,3.57,3.96,3.27,3.73,
         3.44,3.31,3.22,3.86,3.44,3.39,
         3.64,3.35,4.06,3.66,3.89,2.95,2.95,3.76,3.57,3.21, 3.31,3.47,3.45,3.24,3.54,3.86,3.59,3.64,3.33,3.82,
         3.62,3.35,3.66,3.64,3.76,3.37,3.60,3.69,3.39,3.35, 3.69,3.61,3.31,3.41,3.61,3.49,3.31,3.39,3.47,3.49,
         3.60,3.35,3.24,3.41,3.46,3.68,3.41,3.98,3.27,3.11, 4.42,3.60,3.60,3.49,3.90,3.49,3.29]
e3_k3_t = [55224.307,55224.326,55224.344,55224.363,55224.381,55224.400,55224.418,55224.437,55224.456,55224.474,
           55224.493,55224.511,55224.530,55224.549,55224.567,55224.586,55224.604,55224.623,55224.642,55224.660,
           55224.679,55224.697,55224.716,55224.735,55224.753,55224.772,55224.790,55224.809,55224.821,55224.840,
           55224.859,55224.874,55224.890,55224.911,55224.927,55224.945,55224.967,55224.989,55225.007,55225.023,
           55225.045,55225.066,55225.085,55225.107,55225.122,55225.138,55225.153,
           55226.012,55226.021,55226.037,55226.058,55226.099,55226.114,55226.130,55226.154,55226.192,55226.217,
           55226.239,55226.254,55226.273,55226.291,55226.309,55226.328,55226.347,55226.365,55226.384,55226.402,
           55226.421,55226.440,55226.458,55226.477,55226.495,55226.514,55226.533,55226.551,55226.570,55226.588,
           55226.607,55226.626,55226.644,55226.663,55226.681,55226.700,55226.719,55226.737,55226.756,55226.774,
           55226.793,55226.812,55226.830,55226.849,55226.867,55226.886,55226.905,55226.923,55226.942,55226.960,
           55226.979,55226.998,55227.016,55227.035,55227.106]
e3_k3 = [2.55,2.64,2.54,2.49,2.57,2.50,2.56,2.52,2.54,2.53, 2.50,2.55,2.45,2.53,2.57,2.50,2.54,2.56,2.50,2.54,
         2.59,2.50,2.54,2.50,2.54,2.59,2.54,2.50,2.62,2.61, 2.37,2.47,2.54,2.64,2.57,2.54,2.40,2.42,2.57,2.44,
         2.47,2.56,2.62,2.47,2.64,2.48,2.48,
         2.59,2.73,2.55,2.37,2.55,2.57,2.38,2.73,2.86,2.71, 2.64,2.50,2.62,2.57,2.54,2.61,2.54,2.55,2.61,2.54,
         2.50,2.55,2.47,2.54,2.64,2.54,2.53,2.54,2.50,2.59, 2.54,2.50,2.54,2.50,2.54,2.50,2.56,2.54,2.57,2.54,
         2.59,2.48,2.61,2.54,2.59,2.54,2.55,2.55,2.54,2.71, 2.48,2.53,2.61,2.67,2.54]

# Epoch 4 (MJD 55361-55363.5)
e4_t_0716 = [55361.359,55361.450,55361.552,55361.638,55361.809,55361.988,55362.070,55362.175,55362.270,
             55362.348,55362.441,55362.531,55362.886,55363.112,55363.210]
e4_q1 = [1.68,1.58,1.83,1.85,2.10,2.13,1.71,1.79,1.77,1.72,1.53,1.99,1.87,1.34,1.43]
e4_k1 = [1.96,2.11,1.92,2.04,2.12,1.93,1.92,2.02,2.00,2.06,1.83,1.84,1.84,1.82,1.84]
e4_q2 = [1.67,1.66,1.82,1.87,2.17,1.90,1.61,1.82,1.73,1.69,1.54,1.94,1.71,1.37,1.55]
e4_k2 = [2.01,2.11,1.92,1.87,2.03,1.90,1.93,2.09,1.98,2.03,1.86,1.87,1.80,1.86,1.98]
e4_t_0836 = [55361.377,55361.468,55361.567,55361.656,55361.754,55361.827,55361.924,55362.004,55362.192,
             55362.285,55362.361,55362.463,55362.551,55362.642,55362.824,55362.904,55363.130,55363.227]
e4_q3 = [2.74,2.89,2.69,2.79,2.99,2.77,2.46,2.43,2.82,2.65,2.70,2.78,2.66,2.91,2.42,2.53,2.82,3.01]
e4_k3 = [2.83,2.77,2.79,2.49,2.68,2.65,2.79,2.72,2.87,2.72,2.75,2.82,2.82,2.90,2.62,2.73,2.83,3.03]

# typical 1-sigma uncertainties per series (Jy): (Q-band, K-band) for rows 1..3
err = {
    'e1': [(0.40, 0.10), (0.18, 0.06), (0.15, 0.06)],
    'e2': [(0.20, 0.06), (0.18, 0.05), (0.15, 0.04)],
    'e3': [(0.28, 0.08), (0.22, 0.06), (0.15, 0.06)],
    'e4': [(0.12, 0.09), (0.12, 0.08), (0.10, 0.07)],
}

# axis tick labels
e1_xticks = [55177, 55178, 55179, 55180, 55181]
e1_xlabels = ["55177", "55178", "55179", "55180", "55181"]
e2_xticks = [55200, 55202, 55204, 55206, 55208]
e2_xlabels = ["55200", "55202", "55204", "55206", "55208"]
e3_xticks = [55224, 55224.5, 55225, 55225.5, 55226, 55226.5, 55227, 55227.5]
e3_xlabels = ["55224", "55225", "55225", "55226", "55226", "55227", "55227", "55228"]
e4_xticks = [55361, 55361.5, 55362, 55362.5, 55363, 55363.5]
e4_xlabels = ["55361", "55362", "55362", "55363", "55363", "55364"]

for a, b in [(e1_q1_t, e1_q1), (e1_k1_t, e1_k1), (e1_q2_t, e1_q2), (e1_k2_t, e1_k2), (e1_q3_t, e1_q3),
             (e1_k3_t, e1_k3), (e2_t_0716, e2_q1), (e2_t_0716, e2_k1), (e2_t_0716, e2_q2), (e2_t_0716, e2_k2),
             (e2_t_0836, e2_q3), (e2_t_0836, e2_k3), (e3_q1_t, e3_q1), (e3_k1_t, e3_k1), (e3_q2_t, e3_q2),
             (e3_k2_t, e3_k2), (e3_q3_t, e3_q3), (e3_k3_t, e3_k3), (e4_t_0716, e4_q1), (e4_t_0716, e4_k1),
             (e4_t_0716, e4_q2), (e4_t_0716, e4_k2), (e4_t_0836, e4_q3), (e4_t_0836, e4_k3)]:
    assert len(a) == len(b), (len(a), len(b))

# ---------------- LAYOUT ----------------
W, H = 886, 1594
FONT = "Liberation Serif, Times New Roman, serif"
AX = "#333333"
BLACK, RED = "#000000", "#ff0000"
ERR_BLACK, ERR_RED = "rgba(70,70,70,0.85)", "rgba(255,90,90,0.8)"

LEFT = (44.3, 420.7)
RIGHT = (465.3, 841.3)
TOP_ROWS = [(79, 318), (318, 557), (557, 756)]
BOT_ROWS = [(837, 1075.5), (1075.5, 1314), (1314, 1513)]


def px(xp):
    return xp / W


def py(yp):
    return 1 - yp / H


epochs = [
    dict(name="(Epoch 1)", col=LEFT, rows=TOP_ROWS, xr=(55177, 55181.5), xt=e1_xticks, xl=e1_xlabels, xm=0.1,
         yr=[(2, 10, 2, 0.5), (2, 10, 2, 0.5), (1, 5, 1, 0.2)],
         data=[(e1_q1_t, e1_q1, e1_k1_t, e1_k1), (e1_q2_t, e1_q2, e1_k2_t, e1_k2),
               (e1_q3_t, e1_q3, e1_k3_t, e1_k3)], err=err['e1']),
    dict(name="(Epoch 2)", col=RIGHT, rows=TOP_ROWS, xr=(55200, 55208), xt=e2_xticks, xl=e2_xlabels, xm=0.5,
         yr=[(1, 4, 1, 0.1), (1, 4, 1, 0.1), (1, 5, 1, 0.2)],
         data=[(e2_t_0716, e2_q1, e2_t_0716, e2_k1), (e2_t_0716, e2_q2, e2_t_0716, e2_k2),
               (e2_t_0836, e2_q3, e2_t_0836, e2_k3)], err=err['e2']),
    dict(name="(Epoch 3)", col=LEFT, rows=BOT_ROWS, xr=(55224, 55227.5), xt=e3_xticks, xl=e3_xlabels, xm=0.1,
         yr=[(2, 5, 1, 0.1), (2, 5, 1, 0.1), (1, 5, 1, 0.2)],
         data=[(e3_q1_t, e3_q1, e3_k1_t, e3_k1), (e3_q2_t, e3_q2, e3_k2_t, e3_k2),
               (e3_q3_t, e3_q3, e3_k3_t, e3_k3)], err=err['e3']),
    dict(name="(Epoch 4)", col=RIGHT, rows=BOT_ROWS, xr=(55361, 55363.5), xt=e4_xticks, xl=e4_xlabels, xm=0.1,
         yr=[(1, 4, 1, 0.1), (1, 4, 1, 0.1), (1, 5, 1, 0.2)],
         data=[(e4_t_0716, e4_q1, e4_t_0716, e4_k1), (e4_t_0716, e4_q2, e4_t_0716, e4_k2),
               (e4_t_0836, e4_q3, e4_t_0836, e4_k3)], err=err['e4']),
]
sources = ["0716+714", "0716+714", "0836+710"]
ytitles = ["Flux* (Jy)", "Flux (Jy)", "Flux (Jy)"]

fig = go.Figure()
layout = {}
annotations = []
tickfont = dict(family=FONT, size=15, color="black")

n = 0
for ep in epochs:
    left, right = ep['col']
    for r in range(3):
        n += 1
        xk = 'xaxis' if n == 1 else f'xaxis{n}'
        yk = 'yaxis' if n == 1 else f'yaxis{n}'
        xref = 'x' if n == 1 else f'x{n}'
        yref = 'y' if n == 1 else f'y{n}'
        top, bot = ep['rows'][r]
        y0, y1, ydt, ymin = ep['yr'][r]
        bottom_row = (r == 2)
        xminor = [round(v, 4) for v in np.arange(ep['xr'][0], ep['xr'][1] + 1e-9, ep['xm'])]
        layout[xk] = dict(domain=[px(left), px(right)], range=list(ep['xr']), anchor=yref, automargin=False,
                          tickmode='array', tickvals=ep['xt'], ticktext=ep['xl'],
                          showticklabels=bottom_row, ticks='inside', ticklen=7, tickwidth=1, tickcolor=AX,
                          showline=True, linecolor=AX, linewidth=1, mirror='allticks',
                          showgrid=False, zeroline=False, tickfont=tickfont,
                          minor=dict(tickmode='array', tickvals=xminor, ticks='inside', ticklen=4,
                                     tickcolor=AX, tickwidth=1, showgrid=False))
        yt = list(np.arange(y0, y1 + 1e-9, ydt))
        ylab = ["" if (v == y0 or v == y1) else str(int(round(v))) for v in yt]
        yminor = [round(v, 4) for v in np.arange(y0, y1 + 1e-9, ymin)]
        layout[yk] = dict(domain=[py(bot), py(top)], range=[y0, y1], anchor=xref, automargin=False,
                          tickmode='array', tickvals=yt, ticktext=ylab,
                          ticks='inside', ticklen=7, tickwidth=1, tickcolor=AX,
                          showline=True, linecolor=AX, linewidth=1, mirror='allticks',
                          showgrid=False, zeroline=False, tickfont=tickfont,
                          minor=dict(tickmode='array', tickvals=yminor, ticks='inside', ticklen=4,
                                     tickcolor=AX, tickwidth=1, showgrid=False))
        # endpoint labels (nudged inward like the original)
        annotations.append(dict(x=px(left - 3), y=py(top + 4.5), xref='paper', yref='paper',
                                text=str(int(y1)), showarrow=False, xanchor='right', yanchor='middle',
                                font=tickfont))
        annotations.append(dict(x=px(left - 3), y=py(bot - 5.5), xref='paper', yref='paper',
                                text=str(int(y0)), showarrow=False, xanchor='right', yanchor='middle',
                                font=tickfont))
        # data
        qt, qv, kt, kv = ep['data'][r]
        eq, ek = ep['err'][r]
        fig.add_trace(go.Scatter(x=qt, y=qv, mode='markers', xaxis=xref, yaxis=yref, showlegend=False,
                                 marker=dict(color=BLACK, size=7.5, line=dict(width=0)),
                                 error_y=dict(type='constant', value=eq, color=ERR_BLACK, thickness=1, width=0),
                                 hoverinfo='skip'))
        fig.add_trace(go.Scatter(x=kt, y=kv, mode='markers', xaxis=xref, yaxis=yref, showlegend=False,
                                 marker=dict(color=RED, size=7.5, line=dict(width=0)),
                                 error_y=dict(type='constant', value=ek, color=ERR_RED, thickness=1, width=0),
                                 hoverinfo='skip'))
        # source label
        annotations.append(dict(x=px(left + 27), y=py(top + 30), xref='paper', yref='paper',
                                text=sources[r], showarrow=False, xanchor='left', yanchor='middle',
                                font=dict(family=FONT, size=18, color='black')))
        # y title
        tx = 11 if left < 100 else 438
        annotations.append(dict(x=px(tx), y=py((top + bot) / 2), xref='paper', yref='paper',
                                text=ytitles[r], showarrow=False, textangle=-90,
                                xanchor='center', yanchor='middle',
                                font=dict(family=FONT, size=15.5, color='black')))
    # epoch title
    top0 = ep['rows'][0][0]
    annotations.append(dict(x=px((left + right) / 2), y=py(top0 - 12.5), xref='paper', yref='paper',
                            text=ep['name'], showarrow=False, xanchor='center', yanchor='middle',
                            font=dict(family=FONT, size=19, color='black')))
    # x title
    botN = ep['rows'][2][1]
    annotations.append(dict(x=px((left + right) / 2), y=py(botN + 32), xref='paper', yref='paper',
                            text="MJD (day)", showarrow=False, xanchor='center', yanchor='middle',
                            font=dict(family=FONT, size=15.5, color='black')))

# band key
annotations.append(dict(x=px(396), y=py(104), xref='paper', yref='paper', text="K-band", showarrow=False,
                        xanchor='right', yanchor='middle', font=dict(family=FONT, size=14.5, color=RED)))
annotations.append(dict(x=px(396), y=py(119.5), xref='paper', yref='paper', text="Q-band", showarrow=False,
                        xanchor='right', yanchor='middle', font=dict(family=FONT, size=14.5, color='black')))

fig.update_layout(**layout)
fig.update_layout(width=W, height=H, autosize=False, margin=dict(l=0, r=0, t=0, b=0, pad=0, autoexpand=False),
                  paper_bgcolor='white', plot_bgcolor='white', annotations=annotations, showlegend=False,
                  font=dict(family=FONT, size=15, color='black'))
fig.write_html("out.html")
